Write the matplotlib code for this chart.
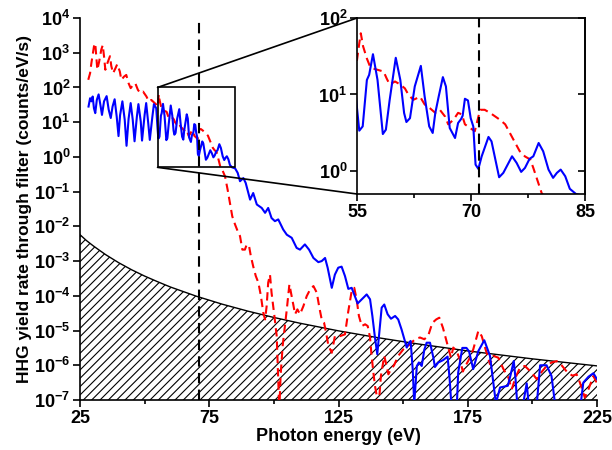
import matplotlib
matplotlib.use('Agg')

import numpy as np
import matplotlib.pyplot as plt
from matplotlib.patches import Rectangle, ConnectionPatch
from matplotlib.ticker import FixedLocator, FuncFormatter, NullLocator, NullFormatter

plt.rcParams['font.family'] = ['Liberation Sans', 'DejaVu Sans']
plt.rcParams['font.weight'] = 'bold'
plt.rcParams['mathtext.fontset'] = 'custom'
plt.rcParams['mathtext.rm'] = 'Liberation Sans:bold'
plt.rcParams['mathtext.bf'] = 'Liberation Sans:bold'
plt.rcParams['hatch.linewidth'] = 0.8

# blue solid spectrum (photon energy eV, log10 of yield)
blue_e = [28.3, 28.9, 29.4, 29.9, 30.4, 30.9, 31.5, 32.2, 33.0, 33.5, 34.3, 35.3, 36.1, 36.9,
          37.6, 38.4, 39.2, 39.9, 40.5, 41.4, 42.3, 43.0, 43.8, 44.6, 45.4, 46.1, 47.0, 47.6,
          48.5, 49.0, 50.0, 50.6, 51.4, 52.0, 53.0, 53.6, 54.5, 55.0, 55.3, 55.75, 56.3, 56.6,
          57.1, 57.7, 58.4, 58.8, 59.3, 60.1, 60.7, 61.2, 61.5, 61.97, 62.6, 63.4, 63.9, 64.5,
          64.96, 65.3, 65.75, 66.3, 66.7, 67.2, 67.9, 68.3, 68.7, 68.9, 69.2, 69.6, 69.96, 70.3,
          70.6, 70.97, 71.4, 72.3, 72.7, 73.7, 74.25, 75.4, 76.0, 76.6, 77.1, 77.7, 78.2, 78.9,
          79.5, 80.2, 80.8, 81.3, 81.8, 82.4, 83.0, 83.8, 85.0, 86.0, 86.9, 88.2, 89.1, 90.8,
          92.0, 93.4, 95.3, 96.6, 97.8, 99.1, 100.4, 101.7, 103.6, 105.0, 106.9, 108.8, 110.1,
          112.0, 113.6, 115.3, 117.2, 118.5, 119.8, 120.8, 122.4, 123.6, 124.9, 126.2, 127.5,
          128.8, 130.1, 132.4, 134.0, 135.9, 137.2, 138.1, 139.1, 140.0, 140.8, 141.7, 142.7,
          144.0, 145.3, 146.9, 148.1, 149.4, 150.5, 151.4, 152.3, 152.9, 153.7, 154.3, 155.3,
          156.1, 157.2, 158.2, 159.1, 160.4, 161.7, 162.3, 163.6, 165.5, 167.2, 168.0, 168.8,
          170.7, 171.3, 172.9, 174.5, 175.5, 177.1, 179.1, 181.4, 183.6, 185.9, 187.5, 190.5,
          191.5, 192.8, 193.5, 194.3, 196.0, 197.8, 198.8, 201.5, 203.0, 205.5, 207.4, 209.1,
          218.4, 219.7, 221.7, 223.6, 225.0]
blue_log = [1.45, 1.69, 1.60, 1.74, 1.40, 1.26, 1.64, 1.80, 1.45, 1.21, 1.60, 1.75, 1.36, 1.12,
            1.45, 1.66, 1.16, 0.60, 1.20, 1.60, 1.07, 0.32, 1.10, 1.55, 1.07, 0.45, 1.16, 1.52,
            1.02, 0.47, 1.21, 1.55, 0.97, 0.49, 1.16, 1.52, 1.40, 0.82, 0.527, 0.583, 1.19, 1.257,
            1.527, 1.19, 0.483, 0.54, 0.93, 1.48, 1.19, 0.757, 0.64, 0.69, 1.105, 1.374, 0.974, 0.583,
            0.497, 0.757, 0.974, 1.227, 1.105, 0.562, 0.431, 0.627, 0.68, 0.722, 0.944, 0.922, 0.69, 0.583,
            0.083, 0.027, 0.19, 0.445, 0.387, -0.082, -0.025, 0.192, 0.106, -0.012, 0.04, 0.158, 0.192, 0.366,
            0.257, 0.018, -0.09, -0.025, 0.018, -0.069, -0.233, -0.30, -0.33, -0.46, -0.70, -0.61, -0.75, -1.23,
            -1.04, -1.37, -1.47, -1.61, -1.47, -1.76, -1.85, -1.80, -2.09, -2.24, -2.33, -2.62, -2.67,
            -2.52, -2.67, -2.91, -3.03, -3.00, -2.91, -3.19, -3.77, -3.39, -3.19, -3.16, -3.43,
            -3.80, -3.77, -4.22, -4.10, -3.96, -4.10, -4.58, -5.20, -5.68, -5.06, -4.34, -4.25,
            -4.53, -4.66, -4.58, -4.68, -4.97, -5.25, -5.49, -5.35, -5.30, -6.11, -7.1, -6.02,
            -5.92, -6.02, -5.55, -5.35, -5.35, -5.78, -6.05, -5.92, -5.85, -5.75, -6.40, -7.3,
            -7.3, -6.21, -5.50, -5.50, -5.60, -6.11, -5.59, -5.28, -5.73, -7.1, -6.64, -6.59,
            -6.3, -5.88, -6.4, -7.3, -7.3, -6.52, -7.3, -7.3, -6.0, -6.0, -6.31, -7.3,
            -7.3, -6.5, -6.33, -6.23, -6.40]

# red dashed spectrum
red_e = [28.2, 28.9, 29.4, 29.9, 30.4, 30.9, 31.3, 31.7, 32.4, 33.2, 33.8, 34.3, 34.8, 35.6,
         36.6, 37.1, 37.8, 38.7, 39.4, 40.4, 41.0, 42.0, 42.9, 43.8, 44.6, 45.5, 46.4, 47.4,
         48.3, 49.4, 50.7, 51.6, 52.6, 53.9, 54.6, 55.0, 55.3, 55.5, 55.8, 56.3, 56.7, 57.1,
         57.8, 58.5, 58.9, 59.3, 60.0, 60.7, 61.3, 61.75, 62.4, 63.3, 63.9, 64.6, 65.3, 65.9,
         66.6, 67.0, 67.7, 68.3, 68.8, 69.2, 69.9, 70.5, 71.2, 71.8, 72.5, 73.8, 74.5, 75.1,
         75.8, 76.4, 77.1, 77.8, 78.2, 78.7, 79.3, 80.2, 81.1, 82.1, 83.0, 83.9, 85.0, 86.0,
         86.9, 87.8, 88.8, 89.5, 90.4, 91.1, 92.0, 93.0, 94.0, 95.0, 95.9, 96.6, 97.2, 97.8,
         98.5, 99.1, 100.2, 101.1, 101.7, 102.1, 102.6, 103.4, 105.0, 106.0, 106.9, 107.5,
         108.2, 109.1, 110.1, 111.4, 112.7, 114.0, 115.3, 116.6, 117.6, 118.5, 119.4, 120.2,
         121.1, 122.4, 123.6, 125.6, 127.5, 128.8, 130.1, 131.1, 132.0, 132.9, 134.0, 135.3,
         136.3, 137.2, 137.8, 138.5, 139.1, 139.8, 140.4, 141.4, 142.7, 143.6, 144.3, 145.3,
         146.5, 148.1, 150.1, 152.0, 154.6, 156.5, 158.2, 159.7, 161.3, 162.8, 164.0, 165.4,
         166.4, 167.8, 168.5, 169.4, 170.7, 172.0, 173.1, 173.9, 175.5, 177.1, 179.1, 180.4,
         182.3, 183.6, 184.9, 186.8, 188.8, 190.7, 192.0, 193.5, 195.2, 197.1, 199.7, 201.7,
         203.5, 205.5, 207.4, 209.4, 211.3, 213.5, 215.5, 217.1, 218.4, 220.3, 221.7, 223.6, 224.9]
red_log = [2.22, 2.41, 2.70, 2.94, 3.18, 3.27, 2.89, 2.51, 2.74, 3.08, 3.22, 2.89, 2.51, 2.70,
           2.90, 2.62, 2.41, 2.55, 2.67, 2.46, 2.22, 2.31, 2.36, 2.12, 1.98, 2.07, 2.12, 1.93,
           1.84, 1.88, 1.74, 1.60, 1.64, 1.55, 1.50, 1.45, 1.67, 1.80, 1.63, 1.47, 1.37, 1.34,
           1.32, 1.30, 1.21, 1.13, 1.17, 1.13, 1.08, 1.00, 0.93, 0.97, 0.87, 0.82, 0.76, 0.80,
           0.71, 0.61, 0.67, 0.76, 0.74, 0.61, 0.56, 0.52, 0.80, 0.80, 0.76, 0.67, 0.61, 0.50,
           0.37, 0.26, 0.19, 0.15, 0.04, -0.11, -0.29, -0.40, -0.56, -0.94, -1.33, -1.71, -1.95, -2.14,
           -2.28, -2.67, -2.67, -2.52, -2.57, -2.86, -3.15, -3.43, -3.62, -4.01, -4.49, -4.68, -4.30, -3.62,
           -3.39, -3.91, -4.58, -5.16, -6.5, -7.3, -6.3, -5.44, -4.39, -3.67, -4.01, -4.25,
           -4.53, -4.39, -4.53, -4.30, -4.01, -3.82, -3.72, -3.91, -4.34, -4.68, -4.77, -5.06,
           -5.44, -5.64, -5.16, -5.16, -5.11, -4.44, -3.86, -3.77, -4.10, -4.58, -4.87, -4.82,
           -4.87, -5.20, -5.73, -6.21, -6.59, -6.88, -7.3, -6.31, -5.73, -6.02, -6.26, -6.11,
           -6.0, -5.73, -5.54, -5.44, -5.25, -5.20, -5.25, -5.15, -4.78, -4.68, -4.63, -4.92,
           -5.20, -5.60, -5.78, -5.49, -5.59, -5.85, -6.18, -6.05, -5.83, -5.55, -5.01, -5.16,
           -5.64, -5.97, -5.73, -5.78, -6.11, -6.35, -6.69, -6.35, -6.07, -6.02, -6.21, -6.40,
           -6.2, -6.02, -5.92, -5.88, -6.0, -6.2, -6.3, -6.26, -6.50, -6.93, -6.69, -6.31, -6.50]

# hatched background level
bg_e = [25, 27.5, 30, 32.5, 35, 40, 45, 50, 55, 60, 70, 80, 90, 100, 110, 125, 140, 155, 175, 200, 225]
bg_y = [5.75e-3, 3.9e-3, 2.79e-3, 2.05e-3, 1.52e-3, 8.95e-4, 5.61e-4, 3.70e-4, 2.55e-4, 1.79e-4,
        9.75e-5, 5.75e-5, 3.61e-5, 2.38e-5, 1.63e-5, 9.8e-6, 6.27e-6, 4.19e-6, 2.59e-6, 1.53e-6, 9.6e-7]

filter_edge = 71.0
zoom_x = (55, 85)
zoom_y = (0.5, 100)

blue_y = np.power(10.0, blue_log)
red_y = np.power(10.0, red_log)

fig = plt.figure(figsize=(6.12, 4.5), dpi=100)
ax = fig.add_axes([80/612, 50/450, 517/612, 382/450])

ax.fill_between(bg_e, 1e-9, bg_y, facecolor='white', edgecolor='black', hatch='////', linewidth=0, zorder=1)
ax.plot(bg_e, bg_y, color='black', lw=1.0, zorder=2)
ax.plot(red_e, red_y, color='#ff0000', lw=1.5, dashes=(4, 2.4), zorder=3)
ax.plot(blue_e, blue_y, color='#0000ff', lw=1.5, zorder=4)
ax.axvline(filter_edge, color='black', lw=1.5, dashes=(5, 3), zorder=5)

ax.set_xlim(25, 225)
ax.set_yscale('log')
ax.set_ylim(1e-7, 1e4)
ax.set_xticks([25, 75, 125, 175, 225])
ax.set_xticks([50, 100, 150, 200], minor=True)
ax.yaxis.set_major_locator(FixedLocator(10.0 ** np.arange(-7, 5)))
ax.yaxis.set_minor_locator(NullLocator())
fmt = FuncFormatter(lambda v, p: r'$\mathbf{10^{%d}}$' % round(np.log10(v)))
ax.yaxis.set_major_formatter(fmt)
ax.spines['top'].set_visible(False)
ax.spines['right'].set_visible(False)
for s in ['left', 'bottom']:
    ax.spines[s].set_linewidth(1.2)
ax.tick_params(which='major', direction='out', length=5, width=1.2, labelsize=13, pad=2)
ax.tick_params(which='minor', direction='out', length=3, width=1.2)
ax.set_xlabel('Photon energy (eV)', fontsize=13, fontweight='bold', labelpad=1)
ax.set_ylabel('HHG yield rate through filter (counts/eV/s)', fontsize=12.5, fontweight='bold', labelpad=1)

# zoom box on the main plot
ax.add_patch(Rectangle((zoom_x[0], zoom_y[0]), zoom_x[1] - zoom_x[0], zoom_y[1] - zoom_y[0],
                       fill=False, edgecolor='black', lw=1.2, zorder=6))

# inset
axins = fig.add_axes([357/612, 1 - 194/450, 228/612, 176/450])
axins.set_facecolor('white')
axins.plot(red_e, red_y, color='#ff0000', lw=1.5, dashes=(4, 2.4))
axins.plot(blue_e, blue_y, color='#0000ff', lw=1.5)
axins.axvline(filter_edge, color='black', lw=1.5, dashes=(5, 3))
axins.set_xlim(*zoom_x)
axins.set_yscale('log')
axins.set_ylim(*zoom_y)
axins.set_xticks([55, 70, 85])
axins.set_xticks([62.5, 77.5], minor=True)
axins.yaxis.set_major_locator(FixedLocator([1, 10, 100]))
axins.yaxis.set_minor_locator(NullLocator())
axins.yaxis.set_major_formatter(fmt)
for s in axins.spines.values():
    s.set_linewidth(1.2)
axins.tick_params(which='major', direction='out', length=5, width=1.2, labelsize=13, pad=2)
axins.tick_params(which='minor', direction='out', length=3, width=1.2)

# inward ticks on the right side of the inset
sec = axins.secondary_yaxis('right')
sec.yaxis.set_major_locator(FixedLocator([1, 10, 100]))
sec.yaxis.set_minor_locator(NullLocator())
sec.yaxis.set_major_formatter(NullFormatter())
sec.tick_params(direction='in', length=5, width=1.2)
sec.spines['right'].set_linewidth(1.2)

for xyA, xyB in [((zoom_x[0], zoom_y[1]), (0, 1)), ((zoom_x[0], zoom_y[0]), (0, 0))]:
    con = ConnectionPatch(xyA=xyA, coordsA=ax.transData, xyB=xyB, coordsB=axins.transAxes,
                          color='black', lw=1.2)
    fig.add_artist(con)

fig.savefig('out.png', dpi=100)
